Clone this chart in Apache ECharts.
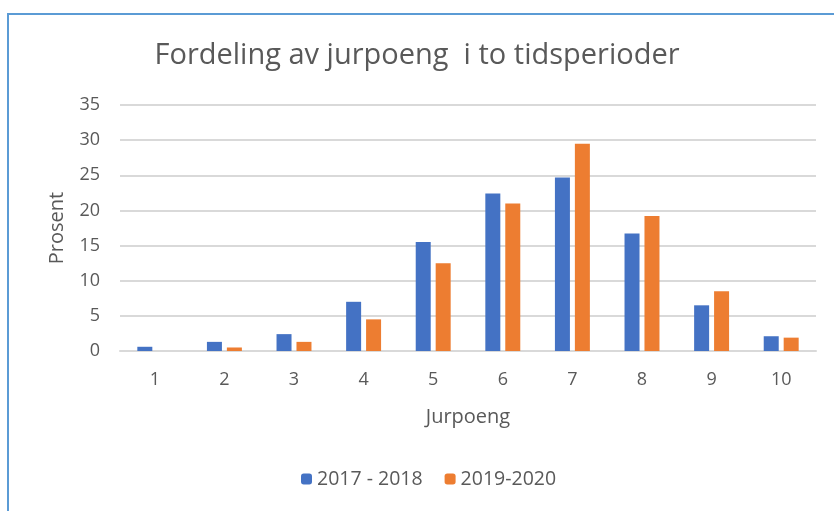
<!DOCTYPE html>
<html lang="no">
<head>
<meta charset="UTF-8">
<title>Fordeling av jurpoeng</title>
<style>
  html, body { margin: 0; padding: 0; overflow: hidden; background: #fff; }
  #frame { position: absolute; left: 7px; top: 13px; width: 900px; height: 600px;
           border-left: 2px solid #5b9bd5; border-top: 2px solid #5b9bd5; }
  #chart { position: absolute; left: 0; top: 0; width: 834px; height: 511px; }
</style>
</head>
<body>
<div id="frame"></div>
<div id="chart"></div>
<script src="https://cdn.jsdelivr.net/npm/echarts@6/dist/echarts.min.js"></script>
<script>
// verdier lest av figuren
var kategorier = ['1', '2', '3', '4', '5', '6', '7', '8', '9', '10'];
var periode1 = [0.6, 1.3, 2.4, 7.0, 15.5, 22.4, 24.7, 16.7, 6.5, 2.1];
var periode2 = [0, 0.5, 1.3, 4.5, 12.5, 21.0, 29.5, 19.2, 8.5, 1.9];
var navn1 = '2017 - 2018';
var navn2 = '2019-2020';

var font = '"Open Sans", sans-serif';
var grå = '#595959';

var myChart = echarts.init(document.getElementById('chart'));

var option = {
    animation: false,
    title: {
        text: 'Fordeling av jurpoeng  i to tidsperioder',
        left: 'center',
        top: 36,
        textStyle: { fontFamily: font, fontSize: 29, fontWeight: 'normal', color: grå }
    },
    legend: {
        bottom: 17,
        left: 296,
        itemWidth: 11,
        itemHeight: 11,
        itemGap: 22,
        textStyle: { fontFamily: font, fontSize: 19.5, color: grå },
        data: [navn1, navn2]
    },
    grid: { left: 120, right: 18, top: 105, bottom: 160 },
    xAxis: {
        type: 'category',
        data: kategorier,
        name: 'Jurpoeng',
        nameLocation: 'middle',
        nameGap: 56,
        nameTextStyle: { fontFamily: font, fontSize: 20, color: grå },
        axisLine: { lineStyle: { color: '#d9d9d9', width: 2 } },
        axisTick: { show: false },
        axisLabel: { fontFamily: font, fontSize: 18, color: grå, margin: 20 }
    },
    yAxis: {
        type: 'value',
        min: 0,
        max: 35,
        interval: 5,
        name: 'Prosent',
        nameLocation: 'middle',
        nameGap: 53,
        nameTextStyle: { fontFamily: font, fontSize: 20, color: grå },
        axisLabel: { fontFamily: font, fontSize: 18, color: grå, margin: 20 },
        splitLine: { lineStyle: { color: '#d9d9d9', width: 2 } }
    },
    series: [
        {
            name: navn1,
            type: 'bar',
            data: periode1,
            barWidth: 15,
            barGap: '33%',
            itemStyle: { color: '#4472c4' }
        },
        {
            name: navn2,
            type: 'bar',
            data: periode2,
            barWidth: 15,
            itemStyle: { color: '#ed7d31' }
        }
    ]
};

myChart.setOption(option);
</script>
</body>
</html>
